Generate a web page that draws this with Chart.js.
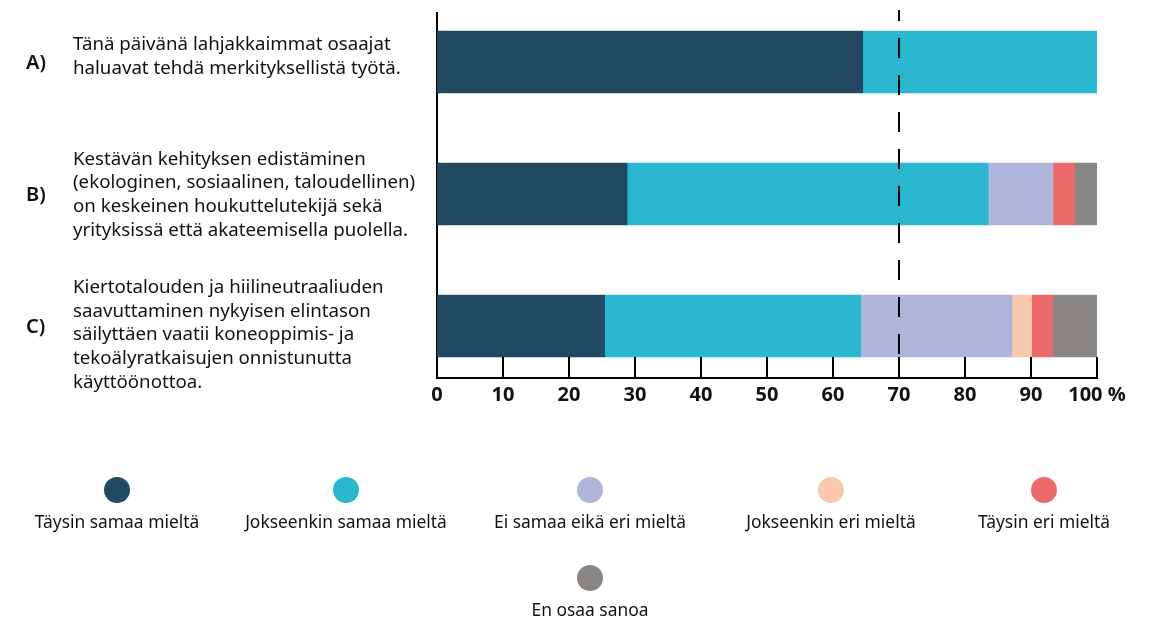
<!DOCTYPE html>
<html>
<head>
<meta charset="utf-8">
<script src="https://cdn.jsdelivr.net/npm/chart.js@4.4.1/dist/chart.umd.min.js"></script>
<style>
  html, body { margin: 0; padding: 0; background: #fff; }
  #wrap { position: relative; width: 1166px; height: 617px; }
</style>
</head>
<body>
<div id="wrap"><canvas id="survey"></canvas></div>
<script>
// Statements (one row each), wrapped as they appear beside the bars
const letters = ['A)', 'B)', 'C)'];
const statements = [
  ['Tänä päivänä lahjakkaimmat osaajat',
   'haluavat tehdä merkityksellistä työtä.'],
  ['Kestävän kehityksen edistäminen',
   '(ekologinen, sosiaalinen, taloudellinen)',
   'on keskeinen houkuttelutekijä sekä',
   'yrityksissä että akateemisella puolella.'],
  ['Kiertotalouden ja hiilineutraaliuden',
   'saavuttaminen nykyisen elintason',
   'säilyttäen vaatii koneoppimis- ja',
   'tekoälyratkaisujen onnistunutta',
   'käyttöönottoa.']
];

const answerLabels = [
  'Täysin samaa mieltä',
  'Jokseenkin samaa mieltä',
  'Ei samaa eikä eri mieltä',
  'Jokseenkin eri mieltä',
  'Täysin eri mieltä',
  'En osaa sanoa'
];
const answerColors = ['#224a63', '#28b7ce', '#b0b6db', '#f9c8ae', '#ed6a6a', '#8a8683'];

// Shares of respondents (%) per statement A, B, C
const fullyAgree       = [64.5, 28.8, 25.4];
const somewhatAgree    = [35.5, 54.7, 38.8];
const neutral          = [0,    9.8,  22.9];
const somewhatDisagree = [0,    0,    3.0];
const fullyDisagree    = [0,    3.3,  3.2];
const dontKnow         = [0,    3.4,  6.7];

const xTickValues = [0, 10, 20, 30, 40, 50, 60, 70, 80, 90, 100];
const referenceLine = 70;

const seriesValues = [fullyAgree, somewhatAgree, neutral, somewhatDisagree, fullyDisagree, dontKnow];

const TEXT = '#111';
const BODY_FONT = "'Noto Sans', 'Open Sans', sans-serif";

// Extra drawing: row texts, inward ticks, dashed reference line, legend
const decorations = {
  id: 'decorations',
  afterDraw(chart) {
    const { ctx, chartArea, scales } = chart;
    const x = scales.x, y = scales.y;

    ctx.save();

    // tick marks pointing up from the axis line
    ctx.strokeStyle = '#000';
    ctx.lineWidth = 2;
    xTickValues.forEach(v => {
      const px = Math.round(x.getPixelForValue(v));
      ctx.beginPath();
      ctx.moveTo(px, chartArea.bottom);
      ctx.lineTo(px, chartArea.bottom - 21);
      ctx.stroke();
    });

    // dashed 70 % line
    const rx = Math.round(x.getPixelForValue(referenceLine));
    ctx.setLineDash([20, 17]);
    ctx.lineDashOffset = 9;
    ctx.beginPath();
    ctx.moveTo(rx, 10);
    ctx.lineTo(rx, chartArea.bottom);
    ctx.stroke();
    ctx.setLineDash([]);

    // row letters and wrapped statements
    const textShift = [-5, 1, 9];
    const lineH = 23.8;
    ctx.fillStyle = TEXT;
    ctx.textBaseline = 'middle';
    ctx.textAlign = 'left';
    letters.forEach((letter, i) => {
      const cy = y.getPixelForValue(i);
      ctx.font = '600 20px ' + BODY_FONT;
      ctx.fillText(letter, 26, cy + 1);
      ctx.font = '18.7px ' + BODY_FONT;
      const lines = statements[i];
      const top = cy + textShift[i] - (lines.length - 1) * lineH / 2;
      lines.forEach((line, j) => ctx.fillText(line, 73, top + j * lineH));
    });

    // legend: dot above label, five in first row and the last one below
    const slots = [[117, 490], [346, 490], [590, 490], [831, 490], [1044, 490], [590, 578]];
    ctx.textAlign = 'center';
    ctx.font = '17.4px ' + BODY_FONT;
    chart.data.datasets.forEach((ds, i) => {
      const [cx, cy] = slots[i];
      ctx.fillStyle = ds.backgroundColor;
      ctx.beginPath();
      ctx.arc(cx, cy, 13, 0, Math.PI * 2);
      ctx.fill();
      ctx.fillStyle = TEXT;
      ctx.fillText(ds.label, cx, cy + 33);
    });

    ctx.restore();
  }
};

new Chart(document.getElementById('survey'), {
  type: 'bar',
  data: {
    datasets: answerLabels.map((label, k) => ({
      label: label,
      data: seriesValues[k].map((v, i) => ({ x: v, y: i })),
      backgroundColor: answerColors[k],
      borderWidth: 0,
      barThickness: 62
    }))
  },
  options: {
    indexAxis: 'y',
    responsive: true,
    maintainAspectRatio: false,
    animation: false,
    layout: { padding: { left: 437, right: 69, top: 13, bottom: 209 } },
    plugins: {
      legend: { display: false },
      tooltip: { enabled: false }
    },
    scales: {
      x: {
        type: 'linear',
        stacked: true,
        min: 0,
        max: 100,
        afterFit: s => { s.height = 30; },
        afterBuildTicks: s => { s.ticks = xTickValues.map(v => ({ value: v })); },
        grid: { display: false, drawTicks: false },
        border: { display: true, color: '#000', width: 2 },
        ticks: {
          padding: 5,
          autoSkip: false,
          maxRotation: 0,
          color: TEXT,
          font: { family: "'Open Sans', sans-serif", size: 20, weight: 'bold' },
          callback: v => v === 100 ? '100 %' : String(v)
        }
      },
      y: {
        type: 'linear',
        stacked: true,
        reverse: true,
        offset: false,
        min: -0.371,
        max: 2.394,
        afterFit: s => { s.width = 0; },
        grid: { display: false, drawTicks: false, offset: false },
        border: { display: true, color: '#000', width: 2 },
        ticks: { display: false }
      }
    }
  },
  plugins: [decorations]
});
</script>
</body>
</html>
